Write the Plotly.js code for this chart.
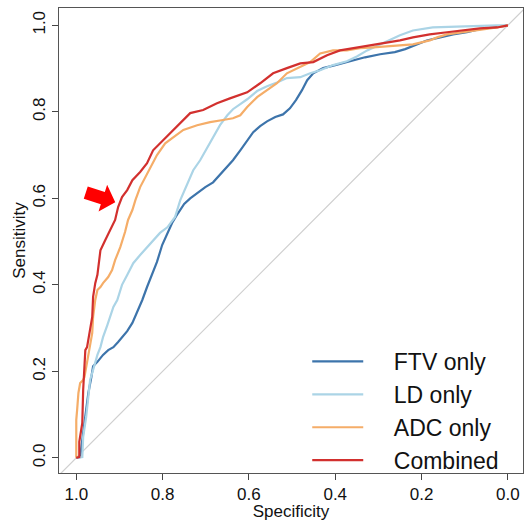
<!DOCTYPE html>
<html>
<head>
<meta charset="utf-8">
<script src="https://cdn.plot.ly/plotly-3.0.1.min.js"></script>
<style>html,body{margin:0;padding:0;background:#fff;}#chart{width:526px;height:521px;}</style>
</head>
<body>
<div id="chart"></div>
<script>
// Series names and colours
const seriesNames = ["FTV only", "LD only", "ADC only", "Combined"];
const seriesColors = ["#3d74ab", "#abd4e6", "#f5ad68", "#d2302e"];

// FTV only
const ftvSpec = [1.0, 0.991, 0.986, 0.979, 0.972, 0.965, 0.961, 0.951, 0.938, 0.926, 0.914, 0.903, 0.894, 0.882, 0.870, 0.859, 0.847, 0.836, 0.824, 0.813, 0.801, 0.789, 0.778, 0.764, 0.750, 0.736, 0.720, 0.701, 0.683, 0.667, 0.650, 0.637, 0.620, 0.604, 0.590, 0.574, 0.558, 0.539, 0.521, 0.505, 0.491, 0.477, 0.465, 0.451, 0.428, 0.400, 0.366, 0.331, 0.296, 0.262, 0.238, 0.215, 0.188, 0.157, 0.127, 0.095, 0.065, 0.035, 0.0];
const ftvSens = [0.0, 0.002, 0.042, 0.095, 0.150, 0.187, 0.212, 0.222, 0.238, 0.249, 0.256, 0.268, 0.279, 0.293, 0.312, 0.337, 0.365, 0.395, 0.423, 0.453, 0.492, 0.520, 0.543, 0.566, 0.587, 0.600, 0.612, 0.626, 0.637, 0.654, 0.672, 0.688, 0.711, 0.734, 0.753, 0.767, 0.778, 0.788, 0.794, 0.808, 0.827, 0.850, 0.873, 0.889, 0.901, 0.908, 0.917, 0.926, 0.933, 0.938, 0.945, 0.954, 0.965, 0.972, 0.979, 0.984, 0.991, 0.995, 1.0];

// LD only
const ldSpec = [1.0, 0.986, 0.984, 0.977, 0.972, 0.968, 0.961, 0.951, 0.944, 0.938, 0.928, 0.921, 0.914, 0.905, 0.894, 0.882, 0.868, 0.852, 0.836, 0.822, 0.806, 0.789, 0.771, 0.759, 0.743, 0.729, 0.713, 0.697, 0.683, 0.667, 0.650, 0.637, 0.620, 0.604, 0.581, 0.558, 0.535, 0.512, 0.481, 0.458, 0.435, 0.405, 0.373, 0.350, 0.326, 0.303, 0.280, 0.250, 0.220, 0.174, 0.104, 0.025, 0.0];
const ldSens = [0.0, 0.002, 0.048, 0.095, 0.141, 0.180, 0.203, 0.238, 0.256, 0.279, 0.307, 0.326, 0.349, 0.365, 0.400, 0.423, 0.450, 0.469, 0.487, 0.503, 0.520, 0.533, 0.557, 0.596, 0.635, 0.665, 0.688, 0.716, 0.741, 0.769, 0.792, 0.806, 0.818, 0.829, 0.848, 0.859, 0.868, 0.878, 0.880, 0.889, 0.896, 0.908, 0.917, 0.928, 0.942, 0.952, 0.963, 0.977, 0.988, 0.995, 0.998, 1.0, 1.0];

// ADC only
const adcSpec = [1.0, 1.0, 0.998, 0.995, 0.991, 0.984, 0.981, 0.975, 0.970, 0.963, 0.961, 0.956, 0.951, 0.944, 0.938, 0.926, 0.917, 0.910, 0.903, 0.898, 0.887, 0.880, 0.870, 0.863, 0.852, 0.840, 0.829, 0.813, 0.794, 0.775, 0.752, 0.720, 0.690, 0.660, 0.637, 0.620, 0.604, 0.581, 0.558, 0.535, 0.512, 0.481, 0.458, 0.435, 0.405, 0.373, 0.343, 0.312, 0.280, 0.250, 0.220, 0.181, 0.164, 0.141, 0.104, 0.065, 0.025, 0.0];
const adcSens = [0.0, 0.088, 0.111, 0.150, 0.173, 0.180, 0.187, 0.226, 0.249, 0.289, 0.326, 0.365, 0.388, 0.395, 0.404, 0.418, 0.434, 0.457, 0.476, 0.487, 0.522, 0.550, 0.573, 0.596, 0.626, 0.649, 0.672, 0.700, 0.727, 0.741, 0.758, 0.769, 0.776, 0.781, 0.785, 0.792, 0.811, 0.834, 0.850, 0.866, 0.889, 0.903, 0.915, 0.935, 0.942, 0.942, 0.947, 0.949, 0.952, 0.954, 0.956, 0.965, 0.972, 0.979, 0.984, 0.991, 0.995, 1.0];

// Combined
const combSpec = [1.0, 0.993, 0.993, 0.986, 0.984, 0.979, 0.975, 0.970, 0.963, 0.961, 0.956, 0.951, 0.944, 0.933, 0.921, 0.910, 0.903, 0.894, 0.882, 0.870, 0.852, 0.836, 0.822, 0.806, 0.782, 0.759, 0.736, 0.706, 0.674, 0.644, 0.604, 0.574, 0.544, 0.512, 0.481, 0.451, 0.419, 0.389, 0.359, 0.319, 0.280, 0.250, 0.220, 0.181, 0.141, 0.104, 0.065, 0.025, 0.0];
const combSens = [0.0, 0.002, 0.037, 0.081, 0.157, 0.249, 0.256, 0.289, 0.326, 0.372, 0.404, 0.423, 0.480, 0.503, 0.527, 0.550, 0.580, 0.603, 0.619, 0.642, 0.661, 0.681, 0.711, 0.727, 0.751, 0.774, 0.797, 0.804, 0.820, 0.831, 0.845, 0.866, 0.889, 0.901, 0.912, 0.915, 0.931, 0.942, 0.947, 0.954, 0.961, 0.965, 0.972, 0.979, 0.984, 0.988, 0.993, 0.995, 1.0];

// Reference (chance) diagonal
const diagSpec = [1.1, -0.1];
const diagSens = [-0.1, 1.1];

// Tick labels
const tickVals = [0, 0.2, 0.4, 0.6, 0.8, 1.0];
const tickText = ["0.0", "0.2", "0.4", "0.6", "0.8", "1.0"];

const FONT = "'Liberation Sans', Arial, Helvetica, sans-serif";
const PAD = "\u00a0\u00a0\u00a0\u00a0";

const xs = [ftvSpec, ldSpec, adcSpec, combSpec];
const ys = [ftvSens, ldSens, adcSens, combSens];

const traces = [{
  x: diagSpec, y: diagSens, mode: "lines", showlegend: false, hoverinfo: "skip",
  line: {color: "#cfcfcf", width: 1.2}
}];
for (let i = 0; i < 4; i++) {
  traces.push({
    x: xs[i], y: ys[i], name: PAD + seriesNames[i], mode: "lines",
    line: {color: seriesColors[i], width: 2.2, shape: "linear"}
  });
}

// Red pointer arrow (annotation)
const arrowPath = "M0.9734,0.6275 L0.9338,0.6148 L0.9285,0.6312 L0.9097,0.5912 L0.9484,0.5697 L0.9431,0.5861 L0.9826,0.5988 Z";

const axisCommon = {
  tickvals: tickVals, ticktext: tickText,
  ticks: "outside", ticklen: 6, tickwidth: 1, tickcolor: "#444",
  showline: true, linecolor: "#555", linewidth: 1, mirror: true,
  showgrid: false, zeroline: false,
  tickfont: {family: FONT, size: 17, color: "#111"}
};

const layout = {
  width: 526, height: 521,
  margin: {l: 59, r: 3, t: 8, b: 48},
  paper_bgcolor: "#fff", plot_bgcolor: "#fff",
  showlegend: true,
  xaxis: Object.assign({}, axisCommon, {
    range: [1.04, -0.035],
    title: {text: "Specificity", font: {family: FONT, size: 17, color: "#111"}, standoff: 0}
  }),
  yaxis: Object.assign({}, axisCommon, {
    range: [-0.035, 1.04],
    tickangle: -90,
    title: {text: "Sensitivity", font: {family: FONT, size: 17, color: "#111"}, standoff: 0}
  }),
  legend: {
    x: 0.535, y: 0.286, xanchor: "left", yanchor: "top",
    bgcolor: "rgba(0,0,0,0)", borderwidth: 0,
    font: {family: FONT, size: 23, color: "#111"},
    itemwidth: 51, tracegroupgap: 0
  },
  shapes: [{
    type: "path", xref: "x", yref: "y", path: arrowPath,
    fillcolor: "#ff0000", line: {width: 0}
  }]
};

Plotly.newPlot("chart", traces, layout, {staticPlot: true, displayModeBar: false});
</script>
</body>
</html>
